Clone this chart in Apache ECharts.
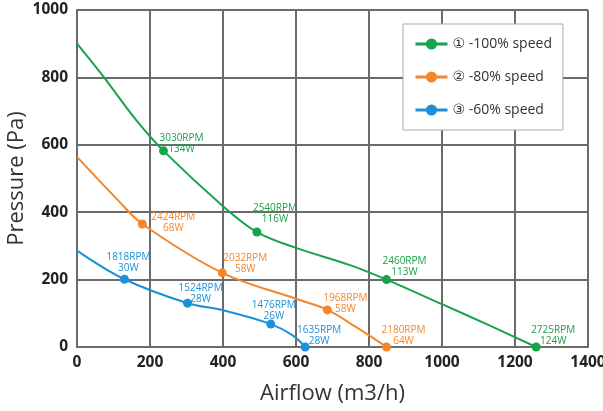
<!DOCTYPE html>
<html>
<head>
<meta charset="utf-8">
<script src="https://cdn.jsdelivr.net/npm/echarts@6/dist/echarts.min.js"></script>
<style>html,body{margin:0;padding:0;background:#fff;}#c{width:603px;height:411px;}</style>
</head>
<body>
<div id="c"></div>
<script>
// Axis ticks
const xTicks = [0, 200, 400, 600, 800, 1000, 1200, 1400];
const yTicks = [0, 200, 400, 600, 800, 1000];

const seriesNames = ['① -100% speed', '② -80% speed', '③ -60% speed'];

// Curve shape points [airflow, pressure]
const curve100 = [[0, 900], [74, 800], [160, 676], [400, 418], [600, 294], [748, 243], [1000, 127], [1130, 64]];
const curve80 = [[0, 564], [110, 438], [600, 143], [766, 58]];
const curve60 = [[0, 286], [400, 109], [590, 35]];

// Operating points [airflow, pressure, rpm, watts]
const points100 = [[237, 582, '3030RPM', '134W'], [493, 341, '2540RPM', '116W'], [848, 200, '2460RPM', '113W'], [1258, 0, '2725RPM', '124W']];
const points80 = [[179, 365, '2424RPM', '68W'], [398, 220, '2032RPM', '58W'], [686, 110, '1968RPM', '58W'], [848, 0, '2180RPM', '64W']];
const points60 = [[130, 201, '1818RPM', '30W'], [303, 130, '1524RPM', '28W'], [531, 68, '1476RPM', '26W'], [625, 0, '1635RPM', '28W']];

// label offsets (style, px)
const offs100 = [[18, -7], [18, -18], [18, -13], [17, -11]];
const offs80 = [[31, -1], [23, -9], [18, -6], [17, -11]];
const offs60 = [[4, -17], [13, -10], [3, -13], [14, -11]];

const colors = ['#17a34a', '#f5862a', '#1b91d8'];
const FONT = '"Open Sans", "DejaVu Sans", sans-serif';

function buildData(curve, pts, offs) {
  const items = [];
  curve.forEach(c => items.push({ value: [c[0], c[1]], symbol: 'none', label: { show: false } }));
  pts.forEach((p, i) => items.push({
    value: [p[0], p[1]],
    label: {
      show: true,
      position: 'inside',
      offset: offs[i],
      formatter: p[2] + '\n' + p[3]
    }
  }));
  items.sort((a, b) => a.value[0] - b.value[0]);
  return items;
}

const sets = [[curve100, points100, offs100], [curve80, points80, offs80], [curve60, points60, offs60]];

const series = sets.map((s, i) => ({
  name: seriesNames[i],
  type: 'line',
  smooth: 0.35,
  symbol: 'circle',
  symbolSize: 9,
  showAllSymbol: true,
  color: colors[i],
  lineStyle: { width: 2, color: colors[i] },
  itemStyle: { color: colors[i] },
  label: { color: colors[i], fontSize: 10, fontFamily: FONT, lineHeight: 11, align: 'center' },
  emphasis: { disabled: true },
  z: 3 - i + 2,
  data: buildData(s[0], s[1], s[2])
}));

const chart = echarts.init(document.getElementById('c'));
chart.setOption({
  animation: false,
  backgroundColor: '#fff',
  grid: { left: 77, right: 15, top: 10, bottom: 64, containLabel: false, outerBoundsMode: 'none' },
  legend: {
    orient: 'vertical',
    left: 403,
    top: 24,
    padding: [13, 11, 13, 11],
    itemWidth: 32,
    itemHeight: 14,
    itemGap: 19,
    backgroundColor: '#fff',
    borderColor: '#aaaaaa',
    borderWidth: 1,
    borderRadius: 0,
    lineStyle: { width: 3 },
    textStyle: { fontSize: 14, fontFamily: FONT, color: '#333' },
    data: seriesNames
  },
  xAxis: {
    type: 'value',
    min: xTicks[0],
    max: xTicks[xTicks.length - 1],
    interval: 200,
    name: 'Airflow (m3/h)',
    nameLocation: 'middle',
    nameGap: 36,
    nameTextStyle: { fontSize: 22, fontFamily: FONT, color: '#333' },
    axisLine: { show: true, lineStyle: { color: '#6b6b6b', width: 2 } },
    axisTick: { show: false },
    splitLine: { show: true, lineStyle: { color: '#6b6b6b', width: 2 } },
    axisLabel: { fontSize: 15.5, fontWeight: 'bold', fontFamily: FONT, color: '#222', margin: 8, formatter: v => String(v) }
  },
  yAxis: {
    type: 'value',
    min: yTicks[0],
    max: yTicks[yTicks.length - 1],
    interval: 200,
    name: 'Pressure (Pa)',
    nameLocation: 'middle',
    nameGap: 49,
    nameMoveOverlap: false,
    nameTextStyle: { fontSize: 22, fontFamily: FONT, color: '#333' },
    axisLine: { show: true, lineStyle: { color: '#6b6b6b', width: 2 } },
    axisTick: { show: false },
    splitLine: { show: true, lineStyle: { color: '#6b6b6b', width: 2 } },
    axisLabel: { fontSize: 15.5, fontWeight: 'bold', fontFamily: FONT, color: '#222', margin: 9, formatter: v => String(v) }
  },
  series: series
});
</script>
</body>
</html>
